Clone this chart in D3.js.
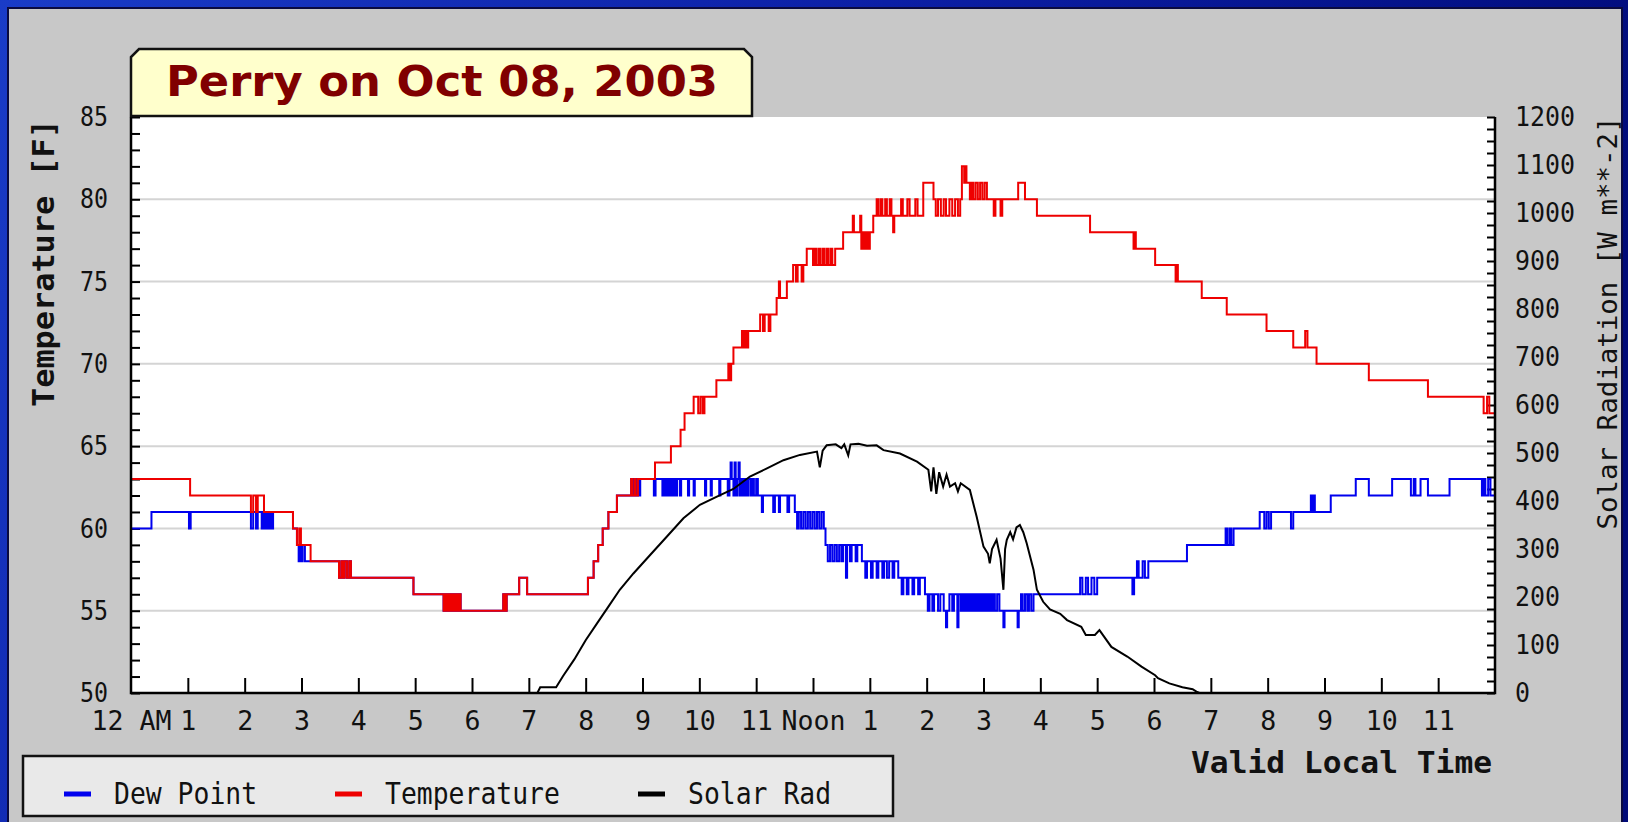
<!DOCTYPE html>
<meta charset="utf-8">
<script src="https://d3js.org/d3.v7.min.js"></script>
<style>
  body { margin: 0; background: #000a7a; overflow: hidden; }
</style>
<div id="chart"></div>
<script>
// observations as [hour after midnight, value]
let tempData = [
  [0,63],[1.04,62],[2.11,61],[2.15,62],[2.2,61],[2.23,62],[2.31,62],[2.34,61],[2.85,60],[2.92,59],[2.96,60],[2.99,59],[3.16,58],
  [3.66,57],[3.7,58],[3.73,57],[3.76,58],[3.8,57],[3.84,58],[3.87,57],
  [4.97,56],
  [5.5,55],[5.53,56],[5.56,55],[5.59,56],[5.62,55],[5.65,56],[5.68,55],[5.71,56],[5.74,55],[5.77,56],[5.8,55],
  [6.55,56],[6.58,55],[6.61,56],[6.83,57],[6.97,56],
  [8.04,57],[8.14,58],[8.22,59],[8.3,60],[8.4,61],[8.55,62],
  [8.8,63],[8.82,62],[8.86,63],[8.88,62],[8.92,63],
  [9.22,64],[9.5,65],[9.67,66],[9.74,67],[9.9,68],[9.98,67],[10.02,68],[10.06,67],[10.09,68],
  [10.3,69],[10.51,70],[10.54,69],[10.56,70],[10.6,71],[10.75,72],[10.78,71],[10.81,72],[10.84,71],[10.86,72],
  [11.07,73],[11.12,72],[11.15,73],[11.22,72],[11.25,73],
  [11.36,74],[11.4,75],[11.42,74],[11.54,75],[11.65,76],[11.7,75],[11.73,76],[11.8,75],[11.83,76],
  [11.89,77],[12.0,76],[12.03,77],[12.06,76],[12.1,77],[12.13,76],[12.17,77],[12.2,76],[12.24,77],[12.27,76],[12.31,77],[12.34,76],
  [12.39,77],[12.53,78],[12.7,79],[12.72,78],[12.83,79],[12.85,77],[12.88,78],[12.91,77],[12.94,78],[12.97,77],[13.0,78],
  [13.06,79],[13.12,80],[13.15,79],[13.19,80],[13.22,79],[13.27,80],[13.3,79],[13.35,80],[13.38,79],[13.41,78],[13.43,79],
  [13.55,80],[13.58,79],[13.66,80],[13.7,79],[13.8,80],[13.84,79],
  [13.94,81],[14.12,80],[14.16,79],[14.2,80],[14.25,79],[14.3,80],[14.34,79],[14.4,80],[14.45,79],[14.5,80],[14.55,79],
  [14.59,80],[14.62,82],[14.66,81],[14.68,82],[14.7,81],[14.76,80],[14.79,81],[14.82,80],[14.86,81],[14.9,80],[14.94,81],
  [14.98,80],[15.02,81],[15.06,80],
  [15.11,80],[15.18,79],[15.21,80],[15.3,79],[15.33,80],
  [15.61,81],[15.73,80],[15.94,79],
  [16.875,78],[17.64,77],[17.66,78],[17.68,77],[18.02,76],[18.38,75],[18.4,76],[18.42,75],[18.84,74],[19.28,73],
  [19.98,72],[20.45,71],[20.66,72],[20.7,71],[20.86,70],[21.78,69],[22.82,68],[23.8,67],[23.86,68],[23.9,67],[24,67]
];

let dewData = [
  [0,60],[0.36,61],[1.02,60],[1.05,61],[2.11,60],[2.15,61],[2.2,60],[2.23,61],[2.3,60],[2.33,61],[2.36,60],[2.39,61],
  [2.42,60],[2.45,61],[2.48,60],[2.5,61],
  [2.85,60],[2.92,59],[2.95,58],[2.97,59],[3.0,58],[3.02,59],[3.06,58],
  [3.66,57],[3.7,58],[3.73,57],[3.76,58],[3.8,57],[3.84,58],[3.87,57],
  [4.97,56],
  [5.5,55],[5.53,56],[5.56,55],[5.59,56],[5.62,55],[5.65,56],[5.68,55],[5.71,56],[5.74,55],[5.77,56],[5.8,55],
  [6.55,56],[6.58,55],[6.61,56],[6.83,57],[6.97,56],
  [8.04,57],[8.14,58],[8.22,59],[8.3,60],[8.4,61],[8.55,62],
  [8.8,63],[8.82,62],[8.85,63],[8.87,62],[8.9,63],[8.93,62],[8.96,63],
  [9.2,62],[9.23,63],[9.35,62],[9.38,63],[9.41,62],[9.44,63],[9.47,62],[9.5,63],[9.53,62],[9.56,63],[9.59,62],[9.61,63],
  [9.66,62],[9.68,63],[9.8,62],[9.82,63],[9.9,62],[9.92,63],[10.1,62],[10.12,63],[10.2,62],[10.22,63],[10.35,62],[10.37,63],
  [10.5,62],[10.53,63],[10.55,64],[10.57,63],[10.6,62],[10.62,64],[10.64,62],[10.67,63],[10.69,64],[10.71,62],[10.74,63],
  [10.77,62],[10.8,63],[10.83,62],[10.86,63],[10.9,62],[10.93,63],[10.96,62],[11.0,63],[11.03,62],
  [11.1,61],[11.12,62],[11.3,61],[11.33,62],[11.4,61],[11.42,62],[11.55,61],[11.58,62],
  [11.68,61],[11.72,60],[11.75,61],[11.79,60],[11.83,61],[11.87,60],[11.91,61],[11.95,60],[11.99,61],[12.03,60],
  [12.07,61],[12.11,60],[12.15,61],[12.19,60],
  [12.22,59],[12.26,58],[12.3,59],[12.34,58],[12.38,59],[12.42,58],[12.46,59],[12.5,58],[12.53,59],
  [12.58,57],[12.6,59],[12.65,58],[12.68,59],[12.75,58],[12.78,59],
  [12.86,58],[12.92,57],[12.95,58],[13.02,57],[13.05,58],[13.12,57],[13.15,58],[13.22,57],[13.25,58],[13.3,57],[13.34,58],
  [13.4,57],[13.43,58],
  [13.5,57],[13.56,56],[13.59,57],[13.65,56],[13.68,57],[13.75,56],[13.78,57],[13.85,56],[13.88,57],
  [13.97,56],[14.02,55],[14.05,56],[14.1,55],[14.13,56],[14.2,55],[14.24,56],[14.3,55],[14.34,54],[14.36,55],[14.4,56],
  [14.45,55],[14.48,56],[14.54,54],[14.56,56],
  [14.6,55],[14.63,56],[14.66,55],[14.69,56],[14.72,55],[14.75,56],[14.78,55],[14.81,56],[14.84,55],[14.87,56],[14.9,55],
  [14.93,56],[14.96,55],[14.99,56],[15.02,55],[15.05,56],[15.08,55],[15.11,56],[15.14,55],[15.17,56],[15.2,55],[15.24,56],
  [15.28,55],[15.35,54],[15.37,55],[15.6,54],[15.62,55],
  [15.66,56],[15.69,55],[15.73,56],[15.77,55],[15.8,56],[15.84,55],[15.88,56],
  [16.7,57],[16.74,56],[16.8,57],[16.84,56],[16.9,57],[16.95,56],[17.0,57],
  [17.62,56],[17.65,57],[17.7,58],[17.73,57],[17.8,58],[17.84,57],[17.9,58],
  [18.58,59],[19.26,60],[19.29,59],[19.33,60],[19.36,59],[19.4,60],
  [19.86,61],[19.94,60],[19.98,61],[20.02,60],[20.06,61],
  [20.41,60],[20.45,61],[20.76,62],[20.78,61],[20.8,62],[20.83,61],
  [21.11,62],[21.55,63],[21.78,62],[22.19,63],[22.52,62],[22.57,63],[22.6,62],[22.69,63],[22.82,62],[23.2,63],
  [23.77,62],[23.8,63],[23.83,62],[23.88,63],[23.92,62],[24,62]
];

let solarData = [
  [7.15,0],[7.2,12],[7.48,12],[7.6,35],[7.8,70],[8.0,110],[8.2,145],[8.4,180],[8.6,215],[8.84,249],[9.13,287],
  [9.43,326],[9.72,364],[10.01,392],[10.31,409],[10.6,425],[10.89,451],[11.19,468],[11.48,485],[11.77,496],[12.07,503],
  [12.12,470],[12.17,505],[12.24,516],[12.4,518],[12.5,510],[12.55,518],[12.62,495],[12.66,518],[12.8,519],[12.95,515],
  [13.12,516],[13.24,506],[13.53,499],[13.83,482],[14.03,465],[14.08,420],[14.12,470],[14.17,415],[14.22,460],[14.29,430],
  [14.35,455],[14.41,430],[14.5,437],[14.55,420],[14.6,437],[14.76,423],[14.88,367],[15.0,305],[15.08,290],[15.11,270],
  [15.15,300],[15.23,319],[15.3,280],[15.35,215],[15.38,300],[15.41,319],[15.47,335],[15.52,320],[15.58,345],[15.64,350],
  [15.7,335],[15.76,312],[15.88,257],[15.94,215],[16.05,190],[16.17,174],[16.35,165],[16.47,152],[16.72,138],[16.8,121],
  [16.96,121],[17.04,131],[17.25,96],[17.53,76],[17.78,55],[18.02,37],[18.07,31],[18.27,20],[18.5,12],[18.68,8],
  [18.76,2],[18.8,0]
];

let tempTicks = [50, 55, 60, 65, 70, 75, 80, 85];
let solarTicks = [0, 100, 200, 300, 400, 500, 600, 700, 800, 900, 1000, 1100, 1200];
let hourLabels = ["12 AM","1","2","3","4","5","6","7","8","9","10","11",
                  "Noon","1","2","3","4","5","6","7","8","9","10","11"];
let seriesNames = ["Dew Point", "Temperature", "Solar Rad"];
let seriesColors = ["#0000ee", "#ee0000", "#000000"];

let W = 1628, H = 822;
let plot = {left: 131, right: 1495, top: 117, bottom: 693};
let mono = "'DejaVu Sans Mono', monospace";

let svg = d3.select("#chart").append("svg")
  .attr("width", W).attr("height", H);

// blue slide frame + gray panel
let grad = svg.append("defs").append("linearGradient")
  .attr("id", "frame").attr("x1", 0).attr("x2", 1).attr("y1", 0).attr("y2", 0.3);
grad.append("stop").attr("offset", 0).attr("stop-color", "#1a3cc8");
grad.append("stop").attr("offset", 0.5).attr("stop-color", "#0c1fa6");
grad.append("stop").attr("offset", 1).attr("stop-color", "#000a78");
svg.append("rect").attr("width", W).attr("height", H).attr("fill", "url(#frame)");
svg.append("rect").attr("x", 8).attr("y", 8).attr("width", 1614).attr("height", H)
  .attr("fill", "#c8c8c8").attr("stroke", "#0a0a40").attr("stroke-width", 2);

let x = d3.scaleLinear().domain([0, 24]).range([plot.left, plot.right]);
let yT = d3.scaleLinear().domain([50, 85]).range([plot.bottom, plot.top]);
let yS = d3.scaleLinear().domain([0, 1200]).range([plot.bottom, plot.top]);

svg.append("rect")
  .attr("x", plot.left).attr("y", plot.top)
  .attr("width", plot.right - plot.left).attr("height", plot.bottom - plot.top)
  .attr("fill", "#ffffff");

// gridlines
svg.append("g").selectAll("line")
  .data(tempTicks.filter(d => d > 50 && d < 85))
  .join("line")
  .attr("x1", plot.left).attr("x2", plot.right)
  .attr("y1", d => yT(d)).attr("y2", d => yT(d))
  .attr("stroke", "#d4d4d4").attr("stroke-width", 2);

// minor ticks (inside the plot)
function ticksOnly(g) {
  g.select(".domain").remove();
  g.selectAll(".tick line").attr("stroke", "#000").attr("stroke-width", 2);
}
svg.append("g").attr("transform", `translate(${plot.left},0)`)
  .call(d3.axisLeft(yT).tickValues(d3.range(50, 86, 1)).tickSize(-9).tickFormat(""))
  .call(ticksOnly);
svg.append("g").attr("transform", `translate(${plot.right},0)`)
  .call(d3.axisRight(yS).tickValues(d3.range(0, 1201, 25)).tickSize(-8).tickFormat(""))
  .call(ticksOnly);
svg.append("g").attr("transform", `translate(0,${plot.bottom})`)
  .call(d3.axisBottom(x).tickValues(d3.range(1, 24)).tickSize(-15).tickFormat(""))
  .call(ticksOnly);

// labels
function condense(sel, adv) {
  sel.each(function() {
    let t = d3.select(this);
    t.attr("textLength", t.text().length * adv).attr("lengthAdjust", "spacingAndGlyphs");
  });
}
function labelStyle(g, size) {
  g.select(".domain").remove();
  g.attr("font-family", mono).attr("font-size", size);
  g.selectAll(".tick text").attr("fill", "#111");
}
svg.append("g").attr("transform", `translate(${plot.left},0)`)
  .call(d3.axisLeft(yT).tickValues(tempTicks).tickSize(0).tickPadding(23))
  .call(labelStyle, 27)
  .selectAll(".tick text").call(condense, 14);
svg.append("g").attr("transform", `translate(${plot.right},0)`)
  .call(d3.axisRight(yS).tickValues(solarTicks).tickSize(0).tickPadding(20).tickFormat(d3.format("d")))
  .call(labelStyle, 26)
  .selectAll(".tick text").call(condense, 15);
svg.append("g").attr("transform", `translate(0,${plot.bottom})`)
  .call(d3.axisBottom(x).tickValues(d3.range(24)).tickSize(0).tickPadding(19)
    .tickFormat((d, i) => hourLabels[i]))
  .call(labelStyle, 26)
  .selectAll(".tick text").call(condense, 16);

// series
let lineT = d3.line().x(d => x(d[0])).y(d => yT(d[1])).curve(d3.curveStepAfter);
let lineS = d3.line().x(d => x(d[0])).y(d => yS(d[1]));
svg.append("path").datum(dewData).attr("d", lineT)
  .attr("fill", "none").attr("stroke", seriesColors[0]).attr("stroke-width", 2);
svg.append("path").datum(tempData).attr("d", lineT)
  .attr("fill", "none").attr("stroke", seriesColors[1]).attr("stroke-width", 2);
svg.append("path").datum(solarData).attr("d", lineS)
  .attr("fill", "none").attr("stroke", seriesColors[2]).attr("stroke-width", 2);

// axis frame lines
svg.append("path")
  .attr("d", `M${plot.left},${plot.top}V${plot.bottom}H${plot.right}V${plot.top}`)
  .attr("fill", "none").attr("stroke", "#000").attr("stroke-width", 2.5);

// title tab
svg.append("path")
  .attr("d", "M131,116V57L139,49H744L752,57V116Z")
  .attr("fill", "#ffffcc").attr("stroke", "#111").attr("stroke-width", 2.5);
svg.append("text")
  .attr("x", 166).attr("y", 96)
  .attr("font-family", "'DejaVu Sans', sans-serif").attr("font-weight", "bold")
  .attr("font-size", 43).attr("fill", "#800000")
  .attr("textLength", 552).attr("lengthAdjust", "spacingAndGlyphs")
  .text("Perry on Oct 08, 2003");

// axis titles
svg.append("text")
  .attr("transform", "translate(54,263) rotate(-90)")
  .attr("text-anchor", "middle").attr("font-family", mono).attr("font-weight", "bold")
  .attr("font-size", 30).attr("fill", "#111")
  .attr("textLength", 288).attr("lengthAdjust", "spacingAndGlyphs")
  .text("Temperature [F]");
svg.append("text")
  .attr("transform", "translate(1617,323) rotate(-90)")
  .attr("text-anchor", "middle").attr("font-family", mono)
  .attr("font-size", 27).attr("fill", "#111")
  .attr("textLength", 413).attr("lengthAdjust", "spacingAndGlyphs")
  .text("Solar Radiation [W m**-2]");
svg.append("text")
  .attr("x", 1492).attr("y", 773)
  .attr("text-anchor", "end").attr("font-family", mono).attr("font-weight", "bold")
  .attr("font-size", 30).attr("fill", "#111")
  .attr("textLength", 301).attr("lengthAdjust", "spacingAndGlyphs")
  .text("Valid Local Time");

// legend
svg.append("rect")
  .attr("x", 23).attr("y", 756).attr("width", 870).attr("height", 60)
  .attr("fill", "#e9e9e9").attr("stroke", "#111").attr("stroke-width", 2.5);
let legendX = [64, 335, 638];
let leg = svg.append("g").selectAll("g")
  .data(seriesNames)
  .join("g")
  .attr("transform", (d, i) => `translate(${legendX[i]},794)`);
leg.append("rect")
  .attr("x", 0).attr("y", -2.5).attr("width", 27).attr("height", 5)
  .attr("fill", (d, i) => seriesColors[i]);
leg.append("text")
  .attr("x", 50).attr("y", 10)
  .attr("font-family", mono).attr("font-size", 30).attr("fill", "#111")
  .text(d => d)
  .call(condense, 15.9);
</script>
